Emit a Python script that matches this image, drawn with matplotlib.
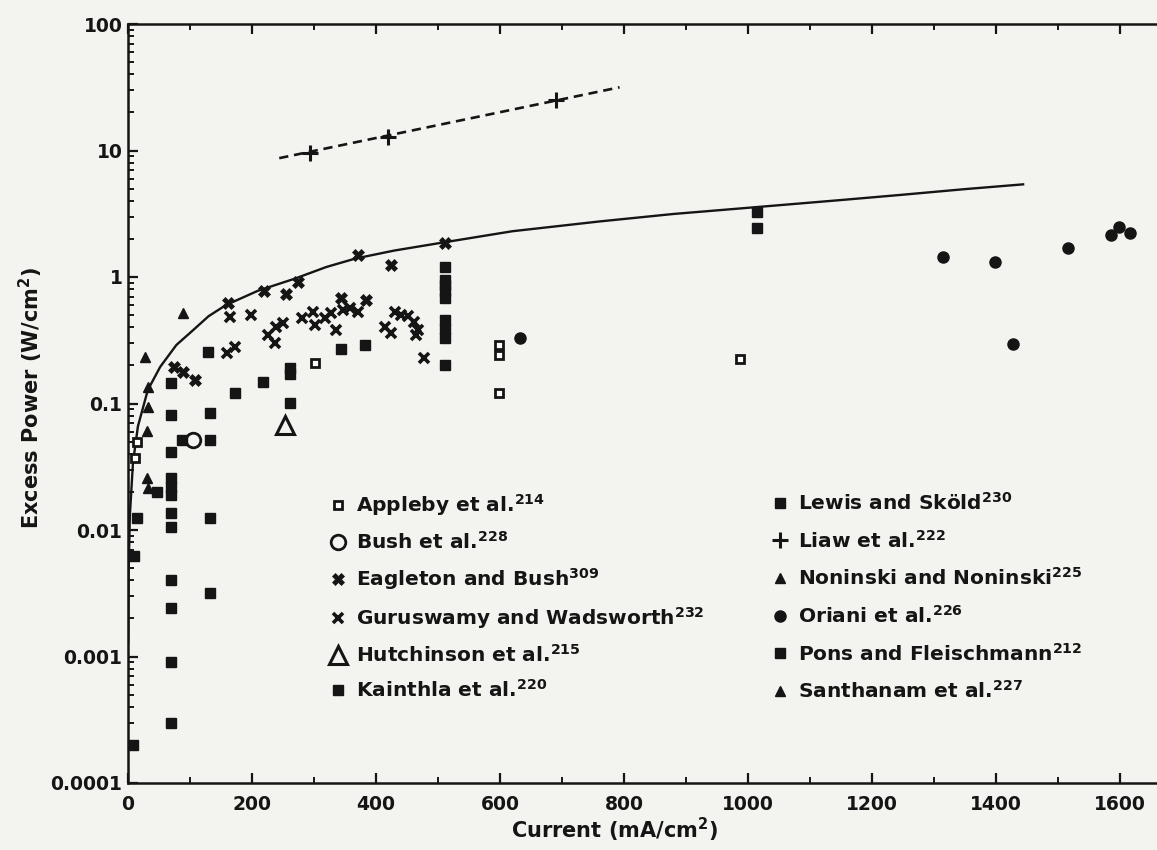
import matplotlib
matplotlib.use("Agg")
import matplotlib.pyplot as plt
from matplotlib.ticker import LogLocator, MultipleLocator, NullFormatter

# ---- data ----
appleby_x = [14, 12, 301, 598, 598, 598, 988]
appleby_y = [0.050, 0.037, 0.21, 0.29, 0.24, 0.12, 0.223]

bush_x = [105]
bush_y = [0.051]

eagleton_x = [161, 220, 255, 274, 344, 371, 384, 425, 511, 75, 89, 108]
eagleton_y = [0.62, 0.77, 0.74, 0.92, 0.68, 1.49, 0.66, 1.24, 1.85, 0.195, 0.178, 0.153]

guruswamy_x = [164, 199, 159, 172, 226, 239, 250, 237, 280, 298, 301, 317, 328,
               336, 347, 358, 371, 414, 425, 430, 441, 452, 462, 468, 465, 478]
guruswamy_y = [0.48, 0.50, 0.25, 0.28, 0.35, 0.40, 0.43, 0.30, 0.47, 0.53, 0.42, 0.47, 0.52,
               0.38, 0.55, 0.57, 0.53, 0.40, 0.36, 0.53, 0.50, 0.49, 0.44, 0.38, 0.35, 0.23]

hutchinson_x = [253]
hutchinson_y = [0.068]

kainthla_x = [70, 70, 70, 70, 70, 70, 70, 70, 70, 70, 70, 70,
              132, 87, 132, 132, 132, 14, 10, 8, 46,
              129, 172, 218, 261, 261, 261, 344, 382]
kainthla_y = [0.145, 0.081, 0.041, 0.026, 0.022, 0.019, 0.0136, 0.0106, 0.0040, 0.0024, 0.00091, 0.00030,
              0.084, 0.051, 0.051, 0.0125, 0.0032, 0.0125, 0.0062, 0.0002, 0.020,
              0.256, 0.120, 0.149, 0.19, 0.17, 0.101, 0.27, 0.29]

lewis_x = [1014, 1014]
lewis_y = [3.28, 2.43]

liaw_x = [293, 420, 690]
liaw_y = [9.6, 12.7, 25]
liaw_line_x = [244, 793]
liaw_line_y = [8.7, 31.6]

noninski_x = [89, 27]
noninski_y = [0.52, 0.234]

oriani_x = [632, 1314, 1398, 1516, 1585, 1599, 1616, 1427]
oriani_y = [0.33, 1.45, 1.31, 1.71, 2.15, 2.50, 2.21, 0.295]

pons_x = [512, 512, 512, 512, 512, 512, 512, 512, 512]
pons_y = [1.20, 0.95, 0.86, 0.77, 0.68, 0.46, 0.39, 0.33, 0.20]

santhanam_x = [32, 32, 30, 31, 32]
santhanam_y = [0.136, 0.094, 0.061, 0.026, 0.0215]

# solid trend curve
curve_x = [0.3, 1, 3, 8, 16, 32, 52, 78, 105, 130, 158, 210, 269, 320, 367, 430, 510,
           620, 761, 880, 993, 1148, 1245, 1350, 1444]
curve_y = [0.0013, 0.0045, 0.013, 0.034, 0.066, 0.128, 0.195, 0.29, 0.38, 0.49, 0.60,
           0.78, 0.97, 1.2, 1.40, 1.62, 1.88, 2.3, 2.75, 3.15, 3.5, 4.05, 4.45, 4.95, 5.4]

yticks = [1e-4, 1e-3, 1e-2, 1e-1, 1, 10, 100]
ytick_labels = ["0.0001", "0.001", "0.01", "0.1", "1", "10", "100"]
xticks = [0, 200, 400, 600, 800, 1000, 1200, 1400, 1600]

INK = "#151515"
BG = "#f3f3f0"

plt.rcParams["mathtext.default"] = "regular"
plt.rcParams["font.family"] = ["DejaVu Sans"]

W, H = 1157, 850
fig = plt.figure(figsize=(W / 100, H / 100), dpi=100, facecolor=BG)
ax = fig.add_axes([128 / W, 67 / H, 1 - 128 / W, (783 - 24) / H])
ax.set_facecolor(BG)

ax.set_yscale("log")
ax.set_xlim(0, 1660)
ax.set_ylim(1e-4, 100)

# curves
ax.plot(curve_x, curve_y, color=INK, lw=1.7, zorder=2, solid_joinstyle="round")
ax.plot(liaw_line_x, liaw_line_y, color=INK, lw=1.9, ls=(0, (3.5, 2.2)), zorder=2)

sq = dict(ls="none", color=INK, zorder=3)
h_app, = ax.plot(appleby_x, appleby_y, marker="s", ms=6, mfc="white", mec=INK, mew=2.0,
                 label=r"Appleby et al.$^{214}$", **sq)
h_bush, = ax.plot(bush_x, bush_y, marker="o", ms=10.5, mfc=BG, mec=INK, mew=2.0,
                  label=r"Bush et al.$^{228}$", **sq)
h_eag, = ax.plot(eagleton_x, eagleton_y, marker="X", ms=8.5, mec=INK, mew=0.5,
                 label=r"Eagleton and Bush$^{309}$", **sq)
h_gur, = ax.plot(guruswamy_x, guruswamy_y, marker="x", ms=6.5, mew=2.6,
                 label=r"Guruswamy and Wadsworth$^{232}$", **sq)
h_hut, = ax.plot(hutchinson_x, hutchinson_y, marker="^", ms=13, mfc=BG, mec=INK, mew=2.2,
                 label=r"Hutchinson et al.$^{215}$", **sq)
h_kai, = ax.plot(kainthla_x, kainthla_y, marker="s", ms=6.5,
                 label=r"Kainthla et al.$^{220}$", **sq)
h_lew, = ax.plot(lewis_x, lewis_y, marker="s", ms=7,
                 label=r"Lewis and Sköld$^{230}$", **sq)
h_lia, = ax.plot(liaw_x, liaw_y, marker="+", ms=12, mew=2.2,
                 label=r"Liaw et al.$^{222}$", **sq)
h_non, = ax.plot(noninski_x, noninski_y, marker="^", ms=7,
                 label=r"Noninski and Noninski$^{225}$", **sq)
h_ori, = ax.plot(oriani_x, oriani_y, marker="o", ms=8,
                 label=r"Oriani et al.$^{226}$", **sq)
h_pon, = ax.plot(pons_x, pons_y, marker="s", ms=7,
                 label=r"Pons and Fleischmann$^{212}$", **sq)
h_san, = ax.plot(santhanam_x, santhanam_y, marker="^", ms=7,
                 label=r"Santhanam et al.$^{227}$", **sq)

# axes styling
for side in ("left", "bottom", "top"):
    ax.spines[side].set_linewidth(1.8)
    ax.spines[side].set_color(INK)
ax.spines["right"].set_visible(False)

ax.set_xticks(xticks)
ax.set_xticklabels([str(v) for v in xticks])
ax.xaxis.set_minor_locator(MultipleLocator(100))
ax.set_yticks(yticks)
ax.set_yticklabels(ytick_labels)
ax.yaxis.set_minor_locator(LogLocator(base=10, subs=range(2, 10), numticks=20))
ax.yaxis.set_minor_formatter(NullFormatter())

ax.tick_params(which="both", direction="in", top=True, right=False, color=INK)
ax.tick_params(which="major", length=7, width=1.6)
ax.tick_params(which="minor", length=4, width=1.4)
ax.tick_params(axis="x", which="major", pad=9, labelsize=13.5, labelcolor=INK)
ax.tick_params(axis="y", which="major", pad=4, labelsize=13.5, labelcolor=INK)
for t in ax.get_xticklabels() + ax.get_yticklabels():
    t.set_fontweight("bold")

fig.text(31 / W, 1 - 398 / H, r"Excess Power (W/cm$^{2}$)", rotation=90,
         ha="center", va="center", fontsize=15, fontweight="bold", color=INK)
fig.text(614 / W, 1 - 830 / H, r"Current (mA/cm$^{2}$)",
         ha="center", va="center", fontsize=15, fontweight="bold", color=INK)

leg_kw = dict(frameon=False, handlelength=0.9, handletextpad=0.45,
              borderpad=0, borderaxespad=0, numpoints=1,
              loc="upper left", bbox_transform=fig.transFigure, labelcolor=INK,
              prop=dict(size=14.5, weight="bold"))
leg1 = ax.legend(handles=[h_app, h_bush, h_eag, h_gur, h_hut, h_kai],
                 bbox_to_anchor=(329 / W, 1 - 492 / H), labelspacing=0.65, **leg_kw)
ax.add_artist(leg1)
ax.legend(handles=[h_lew, h_lia, h_non, h_ori, h_pon, h_san],
          bbox_to_anchor=(771 / W, 1 - 492 / H), labelspacing=0.78, **leg_kw)

fig.savefig("out.png", dpi=100, facecolor=BG)
